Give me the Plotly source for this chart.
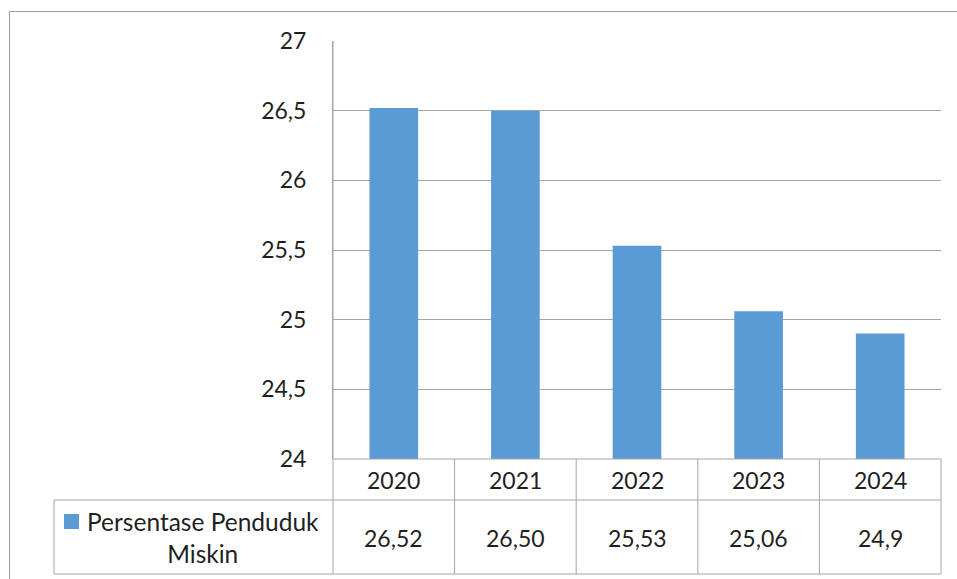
import plotly.graph_objects as go

categories = ["2020", "2021", "2022", "2023", "2024"]
values = [26.52, 26.50, 25.53, 25.06, 24.9]
value_labels = ["26,52", "26,50", "25,53", "25,06", "24,9"]
series_name = "Persentase Penduduk<br>Miskin"
y_tickvals = [24, 24.5, 25, 25.5, 26, 26.5, 27]
y_ticktext = ["24", "24,5", "25", "25,5", "26", "26,5", "27"]

W, H = 957, 579
L, R, T, B = 333, 16, 41, 120
PW, PH = W - L - R, H - T - B
FONT = "Lato, Carlito, Calibri, sans-serif"
TXT = "#1f1f1f"
BAR = "#5B9BD5"
GRID = "#A6A6A6"
N = len(categories)


def px_x(px):
    return (px - L) / PW


def px_y(py):
    return (H - B - py) / PH


fig = go.Figure(go.Bar(x=categories, y=values, marker_color=BAR, width=0.4,
                       marker_line_width=0, showlegend=False))

shapes = []
line = dict(color=GRID, width=1)
# table horizontal lines
shapes.append(dict(type="line", xref="paper", yref="paper", x0=0, x1=1,
                   y0=0, y1=0, line=line))
for py in (500, 574):
    shapes.append(dict(type="line", xref="paper", yref="paper", x0=px_x(54), x1=1,
                       y0=px_y(py), y1=px_y(py), line=line))
# table vertical lines
for i in range(N + 1):
    shapes.append(dict(type="line", xref="paper", yref="paper", x0=i / N, x1=i / N,
                       y0=0 if i > 0 else 1, y1=px_y(574), line=line))
shapes.append(dict(type="line", xref="paper", yref="paper", x0=px_x(54), x1=px_x(54),
                   y0=px_y(500), y1=px_y(574), line=line))
# legend key
shapes.append(dict(type="rect", xref="paper", yref="paper", x0=px_x(64), x1=px_x(79),
                   y0=px_y(514), y1=px_y(529), fillcolor=BAR, line=dict(width=0)))
# outer chart border
shapes.append(dict(type="rect", xref="paper", yref="paper", x0=px_x(9.5), x1=px_x(970),
                   y0=px_y(600), y1=px_y(11.5), line=dict(color="#A0A0A0", width=1),
                   fillcolor="rgba(0,0,0,0)", layer="below"))

annotations = []
tfont = dict(family=FONT, size=23, color=TXT)
for i, (c, lab) in enumerate(zip(categories, value_labels)):
    annotations.append(dict(x=(i + 0.5) / N, xref="paper", y=px_y(480), yref="paper", text=c,
                            showarrow=False, xanchor="center", yanchor="middle", font=tfont))
    annotations.append(dict(x=(i + 0.5) / N, xref="paper", y=px_y(538), yref="paper", text=lab,
                            showarrow=False, xanchor="center", yanchor="middle", font=tfont))
annotations.append(dict(x=px_x(203), xref="paper", y=px_y(537), yref="paper", text=series_name,
                        showarrow=False, align="center", xanchor="center", yanchor="middle",
                        font=dict(family=FONT, size=24.5, color=TXT)))

fig.update_layout(
    width=W, height=H, autosize=False,
    margin=dict(l=L, r=R, t=T, b=B, pad=0),
    paper_bgcolor="white", plot_bgcolor="white",
    shapes=shapes, annotations=annotations,
    xaxis=dict(range=[-0.5, N - 0.5], showticklabels=False, showgrid=False,
               zeroline=False, showline=False),
    yaxis=dict(range=[24, 27], tickvals=y_tickvals, ticktext=y_ticktext, showgrid=True,
               gridcolor=GRID, gridwidth=1, zeroline=False, showline=True, linecolor=GRID,
               linewidth=1, ticks="", ticklabelstandoff=21,
               tickfont=dict(family=FONT, size=23, color=TXT)),
    bargap=0.6,
)

fig.write_html("out.html", config={"displayModeBar": False},
               post_script="document.body.style.margin='0';")
